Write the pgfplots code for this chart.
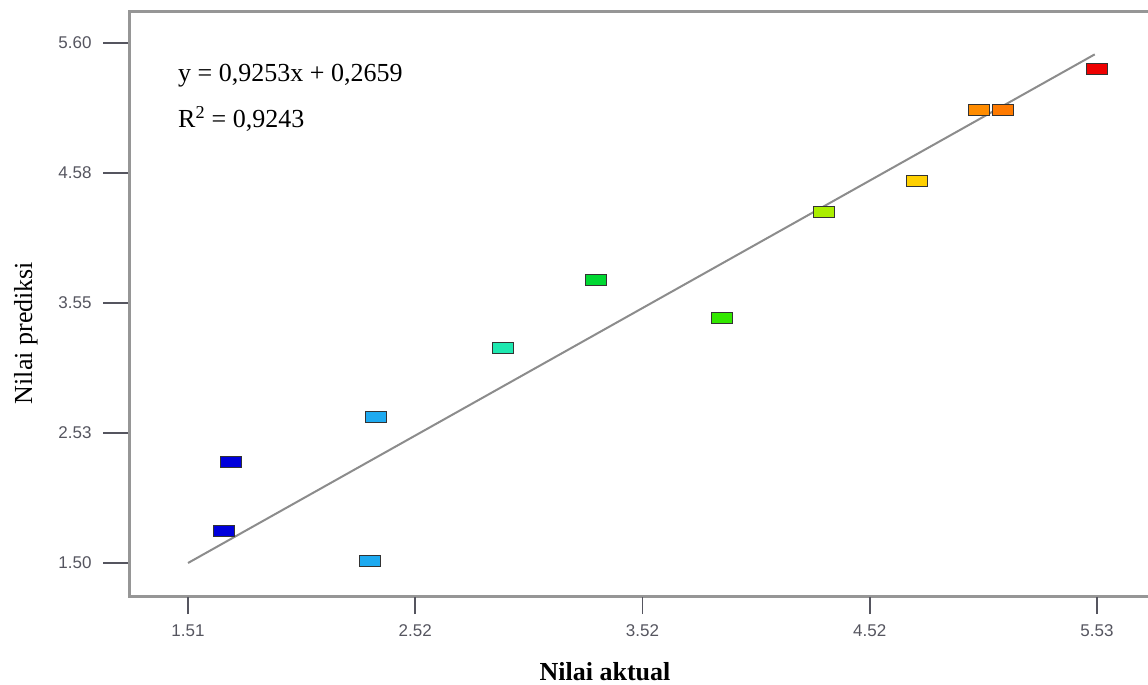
\documentclass[border=0pt]{standalone}
\usepackage{fontspec}
\setmainfont{Liberation Serif}
\newfontfamily\ticksf{Liberation Sans}
\usepackage{pgfplots}
\pgfplotsset{compat=1.18}
\definecolor{tickc}{RGB}{85,85,95}
\definecolor{axc}{RGB}{150,150,150}
\definecolor{cdb}{RGB}{0,0,220}
\definecolor{clb}{RGB}{30,170,240}
\definecolor{cte}{RGB}{30,232,176}
\definecolor{cg1}{RGB}{0,216,50}
\definecolor{cg2}{RGB}{50,232,0}
\definecolor{cyg}{RGB}{170,238,0}
\definecolor{cye}{RGB}{255,208,0}
\definecolor{co1}{RGB}{255,140,0}
\definecolor{co2}{RGB}{255,122,0}
\definecolor{cre}{RGB}{238,0,0}
\pgfplotsset{pt/.style={only marks, mark=square*, mark size=5.5pt,
  mark options={xscale=1.9, fill=#1, draw=black!80, line width=1.3pt}},
  base/.style={at={(129pt,88pt)}, anchor=south west, scale only axis,
  width=1025pt, height=585pt,
  xmin=1.249, xmax=5.782, ymin=1.232, ymax=5.844,
  tick align=outside, xtick pos=bottom, ytick pos=left, clip=false}}
\begin{document}
\begin{tikzpicture}[x=1pt,y=1pt]
\useasboundingbox (0,0) rectangle (1148,685);
\begin{axis}[base,
  axis line style={draw=axc, line width=3pt},
  xtick=\empty,
  ytick={1.50,2.525,3.55,4.575,5.60},
  yticklabels={1.50,2.53,3.55,4.58,5.60},
  major tick length=26pt,
  ytick style={draw=tickc, line width=1.6pt},
  yticklabel style={font=\ticksf\fontsize{17}{17}\selectfont, text=tickc, xshift=-8pt},
]
\addplot[pt=cdb] coordinates {(1.700,2.297) (1.669,1.752)};
\addplot[pt=clb] coordinates {(2.315,1.516) (2.341,2.651)};
\addplot[pt=cte] coordinates {(2.903,3.196)};
\addplot[pt=cg1] coordinates {(3.315,3.732)};
\addplot[pt=cg2] coordinates {(3.872,3.432)};
\addplot[pt=cyg] coordinates {(4.323,4.268)};
\addplot[pt=cye] coordinates {(4.734,4.513)};
\addplot[pt=co1] coordinates {(5.008,5.073)};
\addplot[pt=co2] coordinates {(5.115,5.073)};
\addplot[pt=cre] coordinates {(5.530,5.396)};
\addplot[draw=gray!90, line width=2pt] coordinates {(1.51,1.50) (5.52,5.51)};
\end{axis}
\begin{axis}[base,
  axis line style={draw=none},
  ytick=\empty,
  xtick={1.51,2.515,3.52,4.525,5.53},
  xticklabels={1.51,2.52,3.52,4.52,5.53},
  major tick length=17pt,
  xtick style={draw=tickc, line width=1.6pt},
  xticklabel style={font=\ticksf\fontsize{17}{17}\selectfont, text=tickc, yshift=-7pt},
]
\end{axis}
\node[anchor=base west, inner sep=0pt, font=\fontsize{26}{30}\selectfont] at (178,603) {y = 0,9253x + 0,2659};
\node[anchor=base west, inner sep=0pt, font=\fontsize{26}{30}\selectfont] at (178,557) {R\textsuperscript{2} = 0,9243};
\node[anchor=base, inner sep=0pt, font=\bfseries\fontsize{26}{30}\selectfont] at (605,4) {Nilai aktual};
\node[anchor=base, rotate=90, inner sep=0pt, font=\fontsize{26}{30}\selectfont] at (32,352) {Nilai prediksi};
\end{tikzpicture}
\end{document}
